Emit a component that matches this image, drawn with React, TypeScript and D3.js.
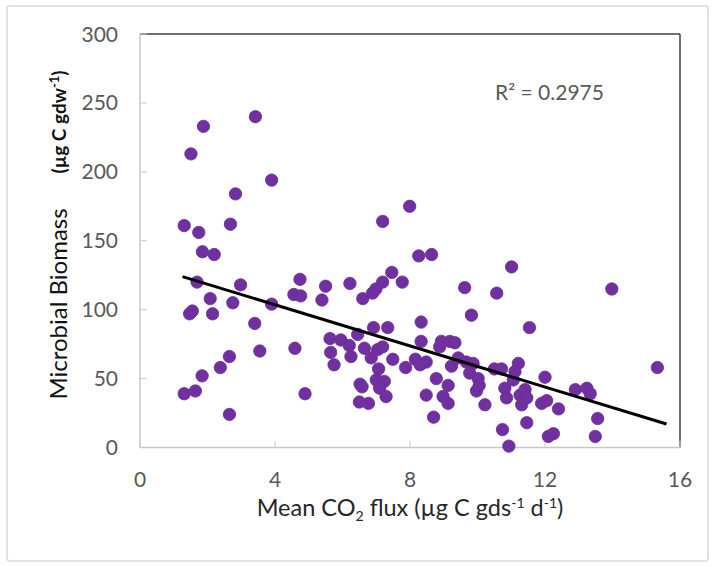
import React from "react";
import * as d3 from "d3";

const fluxX: number[] = [
  1.31, 1.31, 1.51, 1.88, 1.74, 1.85, 2.2, 1.69, 1.47, 1.55, 2.08, 2.15, 1.64, 1.84, 2.38, 2.65, 2.65, 2.68, 2.83, 2.75,
  2.98, 3.42, 3.4, 3.55, 3.9, 3.9, 4.59, 4.56, 4.74, 4.76, 4.89, 5.39, 5.5, 5.63, 5.65, 5.75, 5.95, 6.2, 6.22, 6.25,
  6.45, 6.52, 6.58, 6.5, 6.77, 6.6, 6.65, 6.85, 6.89, 6.92, 6.99, 7.19, 7.19, 7.04, 7.19, 7.07, 7.0, 7.24, 7.1, 7.29,
  7.34, 7.46, 7.49, 7.77, 7.87, 7.99, 8.26, 8.64, 8.33, 8.33, 8.16, 8.48, 8.3, 8.78, 8.48, 8.7, 8.93, 9.18, 9.33, 8.88,
  9.13, 8.98, 9.13, 9.23, 9.43, 9.67, 9.87, 9.62, 9.82, 9.77, 10.02, 9.97, 10.05, 10.22, 10.5, 10.71, 10.81, 10.86, 10.74, 10.93,
  10.57, 11.01, 11.21, 11.06, 11.11, 11.26, 11.41, 11.31, 11.46, 11.46, 11.54, 12.0, 11.9, 12.05, 12.4, 12.1, 12.25, 12.9, 13.24, 13.34,
  13.56, 13.49, 13.98, 15.33,
];

const biomassY: number[] = [
  161, 39, 213, 233, 156, 142, 140, 120, 97, 99, 108, 97, 41, 52, 58, 66, 24, 162, 184, 105,
  118, 240, 90, 70, 194, 104, 72, 111, 122, 110, 39, 107, 117, 79, 69, 60, 78, 74, 119, 66,
  82, 46, 44, 33, 32, 108, 72, 65, 112, 87, 115, 120, 164, 71, 73, 57, 49, 48, 43, 37,
  87, 127, 64, 120, 58, 175, 139, 140, 91, 77, 64, 62, 60, 50, 38, 22, 77, 77, 76, 73,
  45, 37, 32, 59, 65, 62, 61, 116, 96, 54, 50, 41, 45, 31, 57, 57, 43, 36, 13, 1,
  112, 131, 61, 49, 55, 38, 42, 31, 36, 18, 87, 51, 32, 34, 28, 8, 10, 42, 43, 39,
  21, 8, 115, 58,
];

const xTicks: number[] = [0, 4, 8, 12, 16];
const yTicks: number[] = [0, 50, 100, 150, 200, 250, 300];

// Linear trendline
const trendIntercept = 133.4;
const trendSlope = -7.46;
const trendRange: number[] = [1.26, 15.6];
const rSquaredLabel = "R\u00b2 = 0.2975";

export default function App() {
  const W = 715;
  const H = 567;
  const left = 140;
  const right = 680;
  const top = 34;
  const bottom = 447.5;

  const x = d3.scaleLinear().domain([0, 16]).range([left, right]);
  const y = d3.scaleLinear().domain([0, 300]).range([bottom, top]);

  const points = fluxX.map((v, i) => ({ x: v, y: biomassY[i] }));
  const line = d3
    .line<number>()
    .x((d) => x(d))
    .y((d) => y(trendIntercept + trendSlope * d));

  const font = "Lato, 'Open Sans', sans-serif";
  const tickColor = "#595959";

  return (
    <svg
      width={W}
      height={H}
      style={{ position: "fixed", left: 0, top: 0, background: "#fff" }}
      fontFamily={font}
    >
      <rect x={0} y={0} width={W} height={H} fill="#fff" />
      <rect x={7} y={6} width={701} height={555} fill="none" stroke="#d9d9d9" strokeWidth={1.5} rx={3} />

      {/* plot frame */}
      <line x1={left} x2={right} y1={top} y2={top} stroke="#404040" strokeWidth={1.5} />
      <line x1={right} x2={right} y1={top} y2={bottom} stroke="#404040" strokeWidth={1.5} />
      <line x1={left} x2={left} y1={top} y2={bottom} stroke="#c8c8c8" strokeWidth={1.5} />
      <line x1={left} x2={right} y1={bottom} y2={bottom} stroke="#c8c8c8" strokeWidth={1.5} />

      {yTicks.map((t) => (
        <g key={"y" + t}>
          <line x1={left} x2={left + 7} y1={y(t)} y2={y(t)} stroke="#c8c8c8" strokeWidth={1} />
          <text x={118} y={y(t)} dy="0.36em" textAnchor="end" fontSize={21} fill={tickColor}>
            {t}
          </text>
        </g>
      ))}
      {xTicks.map((t) => (
        <g key={"x" + t}>
          <line x1={x(t)} x2={x(t)} y1={bottom} y2={bottom - 7} stroke="#c8c8c8" strokeWidth={1} />
          <text x={x(t)} y={487} textAnchor="middle" fontSize={21} fill={tickColor}>
            {t}
          </text>
        </g>
      ))}

      {points.map((p, i) => (
        <circle key={i} cx={x(p.x)} cy={y(p.y)} r={6.2} fill="#7030a0" stroke="#6a2c9c" strokeWidth={0.8} />
      ))}

      <path d={line(trendRange) || ""} fill="none" stroke="#000" strokeWidth={3} />

      <text x={495} y={100} fontSize={21} fill={tickColor}>
        {rSquaredLabel}
      </text>

      {/* y-axis title */}
      <text transform="translate(67,304) rotate(-90)" textAnchor="middle" fontSize={24} fill="#111">
        Microbial Biomass
      </text>
      <text transform="translate(66,122) rotate(-90)" textAnchor="middle" fontSize={19} fontWeight="bold" fill="#111">
        (µg C gdw
        <tspan fontSize={13} dy={-7}>-1</tspan>
        <tspan dy={7}>)</tspan>
      </text>

      {/* x-axis title */}
      <text x={410} y={516} textAnchor="middle" fontSize={23.5} fill="#262626">
        Mean CO
        <tspan fontSize={14} dy={5}>2</tspan>
        <tspan dy={-5}> flux (µg C gds</tspan>
        <tspan fontSize={14} dy={-8}>-1</tspan>
        <tspan dy={8}> d</tspan>
        <tspan fontSize={14} dy={-8}>-1</tspan>
        <tspan dy={8}>)</tspan>
      </text>
    </svg>
  );
}
